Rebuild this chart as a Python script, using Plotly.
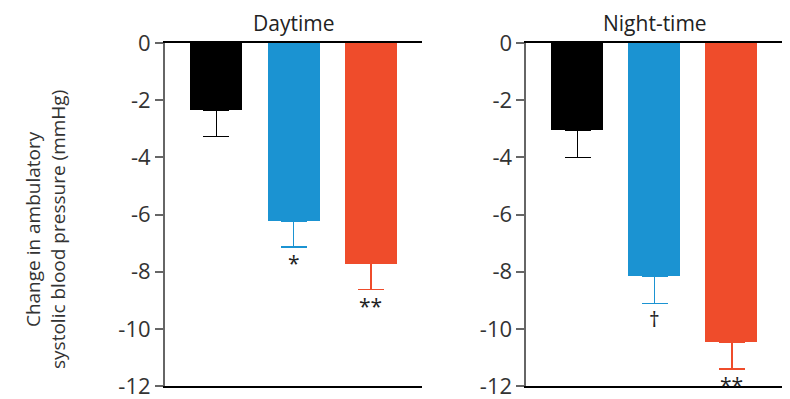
import plotly.graph_objects as go

groups = ["Control", "Treatment A", "Treatment B"]
colors = ["#000000", "#1b93d2", "#ef4c2b"]
day_values = [-2.36, -6.22, -7.72]
day_errors = [0.91, 0.92, 0.91]
day_marks = ["", "*", "**"]
night_values = [-3.06, -8.15, -10.46]
night_errors = [0.95, 0.96, 0.94]
night_marks = ["", "†", "**"]
panel_titles = ["Daytime", "Night-time"]
y_ticks = [0, -2, -4, -6, -8, -10, -12]

FONT = "Open Sans"
fig = go.Figure()

panels = [(day_values, day_errors, day_marks, "x", "y"),
          (night_values, night_errors, night_marks, "x2", "y2")]
xpos = list(range(len(groups)))

for vals, errs, marks, xa, ya in panels:
    for i, g in enumerate(groups):
        fig.add_trace(go.Bar(
            x=[xpos[i]], y=[vals[i]], width=0.675,
            marker=dict(color=colors[i], line=dict(width=0)),
            error_y=dict(type="data", symmetric=False, array=[0], arrayminus=[errs[i]],
                         color=colors[i], thickness=1.5, width=13),
            xaxis=xa, yaxis=ya, showlegend=False, name=g))
        if marks[i]:
            fig.add_annotation(x=xpos[i], y=vals[i] - errs[i], xref=xa, yref=ya,
                               text=marks[i], showarrow=False, yanchor="top",
                               yshift=0, font=dict(family=FONT, size=21, color="#222"))

axis_x = dict(range=[-0.665, 2.665], showline=True, mirror=True, linecolor="#000",
              linewidth=1.5, showticklabels=False, ticks="", showgrid=False,
              zeroline=False, automargin=False)
axis_y = dict(range=[-12, 0], tickvals=y_ticks, ticktext=[str(v) for v in y_ticks],
              showline=True, linecolor="#666", linewidth=2, ticks="outside", ticklen=8,
              tickwidth=1.5, tickcolor="#666", showgrid=False, zeroline=False,
              automargin=False, ticklabeloverflow="allow",
              tickfont=dict(family=FONT, size=22, color="#333"))

# page body has an 8px margin; figure is sized to fit inside the window
W, H = 782, 391
L, R, T, B = 157, 7.3, 35.3, 13.3
PW = W - L - R
PH = H - T - B
fig.update_layout(
    width=W, height=H, margin=dict(l=L, r=R, t=T, b=B, pad=0),
    paper_bgcolor="white", plot_bgcolor="white",
    xaxis=dict(domain=[0, 257/PW], **axis_x),
    xaxis2=dict(domain=[(518.3-L)/PW, 1], **axis_x),
    yaxis=dict(domain=[0, 1], anchor="x", **axis_y),
    yaxis2=dict(domain=[0, 1], anchor="x2", **axis_y),
    bargap=0,
)

for t, xa in zip(panel_titles, ["x", "x2"]):
    fig.add_annotation(x=1, y=1, xref=xa, yref="paper", yanchor="bottom",
                       text=t, showarrow=False, yshift=4,
                       font=dict(family=FONT, size=21, color="#222"))

fig.add_annotation(x=(37 - L) / PW, y=(H - B - 221) / PH, xref="paper", yref="paper",
                   xanchor="center", yanchor="middle",
                   text="Change in ambulatory<br>systolic blood pressure (mmHg)",
                   showarrow=False, textangle=-90, align="center",
                   font=dict(family=FONT, size=19, color="#333"))

fig.write_html("out.html")
